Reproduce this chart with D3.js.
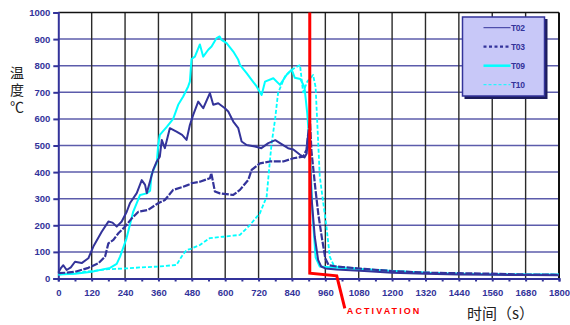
<!DOCTYPE html>
<html>
<head>
<meta charset="utf-8">
<script src="https://cdn.jsdelivr.net/npm/d3@7"></script>
<style>
  body { margin: 0; background: #fff; }
  svg { display: block; font-family: Arial, "Liberation Sans", sans-serif; }
  .vtitle { writing-mode: vertical-rl; text-orientation: upright; }
</style>
</head>
<body>
<div id="chart"></div>
<script>
// time (s), temperature (°C)
const t02 = [[0,22],[10,40],[18,50],[30,32],[45,42],[60,63],[84,58],[108,76],[126,120],[156,176],[180,214],[195,210],[210,195],[228,214],[246,251],[258,284],[282,321],[300,370],[312,352],[318,321],[341,408],[354,440],[365,458],[372,521],[383,490],[401,565],[425,552],[445,540],[461,521],[473,577],[485,615],[503,665],[521,640],[545,697],[557,653],[575,659],[599,640],[611,628],[629,590],[647,565],[659,515],[677,502],[707,496],[730,490],[755,509],[780,520],[797,509],[826,490],[845,485],[869,465],[885,455],[893,470],[898,540],[903,480],[910,308],[922,157],[934,70],[945,45],[960,38],[1000,34],[1100,28],[1200,22],[1320,18],[1440,15],[1560,14],[1680,13],[1800,12]];
const t03 = [[0,20],[30,22],[60,25],[108,40],[144,57],[168,82],[180,132],[198,145],[216,170],[240,195],[264,226],[288,251],[323,258],[359,283],[383,295],[413,333],[449,345],[467,352],[479,358],[509,364],[545,377],[550,396],[563,327],[581,320],[629,314],[653,333],[683,371],[695,408],[725,433],[761,440],[809,440],[845,452],[880,458],[892,483],[900,560],[905,590],[910,480],[916,420],[925,330],[935,240],[948,150],[960,75],[972,50],[1000,45],[1100,36],[1200,28],[1320,22],[1440,20],[1560,18],[1680,15],[1800,14]];
const t09 = [[0,15],[60,18],[120,25],[186,40],[210,55],[222,82],[245,150],[269,250],[282,283],[294,314],[318,320],[330,330],[335,390],[347,420],[354,435],[359,500],[365,540],[390,570],[413,600],[431,653],[449,684],[467,722],[473,740],[479,825],[491,834],[509,880],[521,834],[539,860],[551,872],[569,904],[580,910],[587,897],[605,885],[629,853],[647,822],[653,803],[677,772],[695,747],[713,722],[731,690],[743,740],[773,753],[797,728],[821,766],[839,785],[850,755],[870,750],[885,720],[895,620],[905,480],[913,258],[925,80],[940,45],[1000,40],[1100,35],[1200,28],[1320,22],[1440,18],[1560,16],[1680,15],[1800,15]];
const t10 = [[0,15],[60,20],[120,28],[180,35],[245,38],[300,42],[360,45],[425,51],[443,82],[461,107],[473,110],[509,126],[545,152],[592,157],[653,164],[689,201],[725,246],[749,308],[761,446],[767,509],[779,596],[790,697],[815,760],[839,785],[869,803],[880,700],[895,740],[916,765],[925,720],[940,383],[964,195],[976,82],[990,50],[1000,45],[1100,35],[1200,28],[1320,22],[1440,18],[1560,16],[1680,15],[1800,14]];
const activation = [[904,1000],[904,20],[1001,10],[1030,-112]];

const xTicks = d3.range(0, 1801, 120);
const xMinor = d3.range(0, 1801, 60);
const yTicks = d3.range(0, 1001, 100);

const seriesNames = ['T02', 'T03', 'T09', 'T10'];

const W = 570, H = 325;
const m = {top: 12.5, right: 11, bottom: 46.5, left: 58.3};
const navy = '#33339a', cyan = '#00ffff';

const svg = d3.select('#chart').append('svg').attr('width', W).attr('height', H);

const x = d3.scaleLinear().domain([0, 1800]).range([m.left, W - m.right]);
const y = d3.scaleLinear().domain([0, 1000]).range([H - m.bottom, m.top]);

// grid
svg.append('g').selectAll('line').data(yTicks.filter(d => d > 0 && d < 1000)).join('line')
    .attr('x1', x(0)).attr('x2', x(1800)).attr('y1', d => y(d)).attr('y2', d => y(d))
    .attr('stroke', '#5c5cab').attr('stroke-width', 1.5);
svg.append('g').selectAll('line').data(xTicks.filter(d => d > 0 && d < 1800)).join('line')
    .attr('x1', d => x(d)).attr('x2', d => x(d)).attr('y1', y(0)).attr('y2', y(1000))
    .attr('stroke', '#2a2a2a').attr('stroke-width', 1.4);
// top and right border
svg.append('line').attr('x1', x(0)).attr('x2', x(1800)).attr('y1', y(1000)).attr('y2', y(1000))
    .attr('stroke', '#111').attr('stroke-width', 1.5);
svg.append('line').attr('x1', x(1800)).attr('x2', x(1800)).attr('y1', y(0)).attr('y2', y(1000))
    .attr('stroke', '#111').attr('stroke-width', 2);

// axes
const yAxis = d3.axisLeft(y).tickValues(yTicks).tickSize(5).tickPadding(3).tickFormat(d3.format('d'));
const gy = svg.append('g').attr('transform', `translate(${m.left},0)`).call(yAxis);
const xAxis = d3.axisBottom(x).tickValues(xMinor).tickSize(3).tickPadding(8)
    .tickFormat(d => d % 120 === 0 ? d : '');
const gx = svg.append('g').attr('transform', `translate(0,${y(0)})`).call(xAxis);
[gx, gy].forEach(g => {
    g.select('.domain').attr('stroke', navy).attr('stroke-width', 2);
    g.selectAll('.tick line').attr('stroke', navy).attr('stroke-width', 2);
    g.selectAll('.tick text').attr('fill', navy).attr('font-size', 9.5).attr('font-weight', 'bold');
});

// series
const line = d3.line().x(d => x(d[0])).y(d => y(d[1]));
const styles = {
    T02: {data: t02, color: navy, width: 2, dash: null},
    T03: {data: t03, color: navy, width: 2.2, dash: '7,1.5'},
    T09: {data: t09, color: cyan, width: 2, dash: null},
    T10: {data: t10, color: cyan, width: 1.8, dash: '4,2'}
};
['T10', 'T09', 'T03', 'T02'].forEach(k => {
    const s = styles[k];
    svg.append('path').datum(s.data).attr('d', line)
        .attr('fill', 'none').attr('stroke', s.color).attr('stroke-width', s.width)
        .attr('stroke-dasharray', s.dash).attr('stroke-linejoin', 'round');
});

// activation marker
svg.append('path').datum(activation).attr('d', line)
    .attr('fill', 'none').attr('stroke', '#ff0000').attr('stroke-width', 3);
svg.append('text').attr('x', x(1030) + 2).attr('y', 313.5)
    .attr('fill', '#ff0000').attr('font-size', 9).attr('font-weight', 'bold')
    .attr('letter-spacing', 2.1).text('ACTIVATION');

// legend
const lg = svg.append('g').attr('transform', 'translate(462.5,17)');
lg.append('rect').attr('x', 2).attr('y', 2).attr('width', 83).attr('height', 80).attr('fill', '#1c1c5c');
lg.append('rect').attr('width', 82).attr('height', 79).attr('fill', '#c8c8f8')
    .attr('stroke', navy).attr('stroke-width', 1.5);
const legendStyle = {
    T02: {color: navy, width: 1, dash: null},
    T03: {color: navy, width: 2.2, dash: '3,2.5'},
    T09: {color: cyan, width: 2.5, dash: null},
    T10: {color: cyan, width: 1, dash: '3,2'}
};
seriesNames.forEach((k, i) => {
    const yy = 10.7 + i * 19;
    const s = legendStyle[k];
    lg.append('line').attr('x1', 21).attr('x2', 48).attr('y1', yy).attr('y2', yy)
        .attr('stroke', s.color).attr('stroke-width', s.width).attr('stroke-dasharray', s.dash);
    lg.append('text').attr('x', 48.5).attr('y', yy + 3).attr('fill', navy)
        .attr('font-size', 8.5).attr('font-weight', 'bold').attr('textLength', 14).text(k);
});

// axis titles
svg.append('text').attr('class', 'vtitle').attr('x', 17).attr('y', 66)
    .attr('fill', '#222').attr('font-family', '"Noto Sans CJK SC", sans-serif')
    .attr('font-size', 14).attr('letter-spacing', 3).text('温度℃');
svg.append('text').attr('x', 467).attr('y', 319).attr('fill', '#222')
    .attr('font-family', '"Noto Sans CJK SC", sans-serif').attr('font-size', 15)
    .text('时间（s）');
</script>
</body>
</html>
